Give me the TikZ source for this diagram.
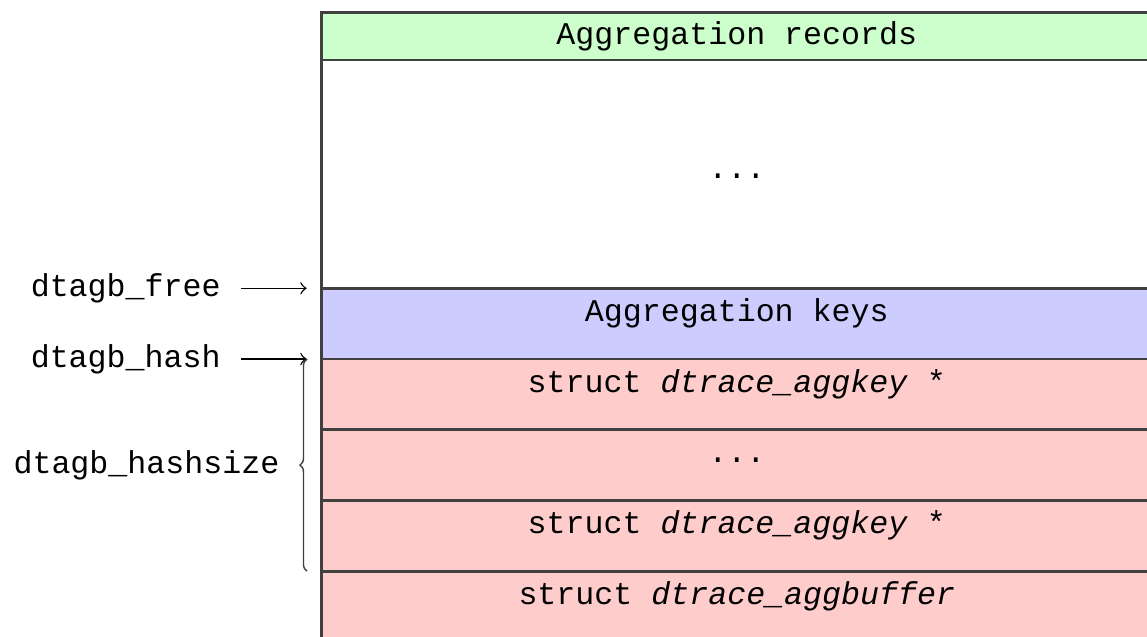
\documentclass[tikz,border=0pt]{standalone}
\usepackage{fontspec}
\setmonofont{Liberation Mono}
\usetikzlibrary{positioning,decorations.pathreplacing}
\tikzset{
  cell/.style={draw=black!75,line width=0.8pt,inner sep=0pt,outer sep=0pt,minimum width=83.1mm,
    text height=3.3mm,text depth=3.77mm,font=\ttfamily\fontsize{9}{11}\selectfont},
  lbl/.style={inner sep=0pt,font=\ttfamily\fontsize{9}{11}\selectfont},
  brace/.style={decorate,decoration={brace,amplitude=2pt},draw=black!75,thin}
}

\begin{document}
\begin{tikzpicture}[x=0.1mm,y=-0.1mm]
\useasboundingbox (0,0) rectangle (1147,637);
\node[cell,fill=green!20,text height=3.17mm,text depth=1.6mm,anchor=north west] (rec) at (321.3,12.3) {Aggregation records};
\node[cell,fill=white,text height=11.8mm,text depth=11.03mm,below=0pt of rec] (gap) {...};
\node[cell,fill=blue!20,below=0pt of gap] (keys) {Aggregation keys};
\node[cell,fill=red!20,below=0pt of keys] (key1) {struct \textit{dtrace\_aggkey} *};
\node[cell,fill=red!20,below=0pt of key1] (key2) {...};
\node[cell,fill=red!20,below=0pt of key2] (key3) {struct \textit{dtrace\_aggkey} *};
\node[cell,fill=red!20,below=0pt of key3] (buf) {struct \textit{dtrace\_aggbuffer}};

\node[lbl,left=10mm of keys.north west] (free) {dtagb\_free};
\node[lbl,left=10mm of key1.north west] (hash) {dtagb\_hash};
\draw[->,shorten <=2mm,shorten >=1.46mm] (free.east) -- (keys.north west);
\draw[->,shorten <=2mm,shorten >=1.46mm] (hash.east) -- (key1.north west);

\coordinate[left=1.43mm of key1.north west] (btop);
\coordinate[left=1.43mm of key3.south west] (bbot);
\draw[brace] (bbot) -- node[lbl,left=2.7mm] (size) {dtagb\_hashsize} (btop);
\end{tikzpicture}
\end{document}
